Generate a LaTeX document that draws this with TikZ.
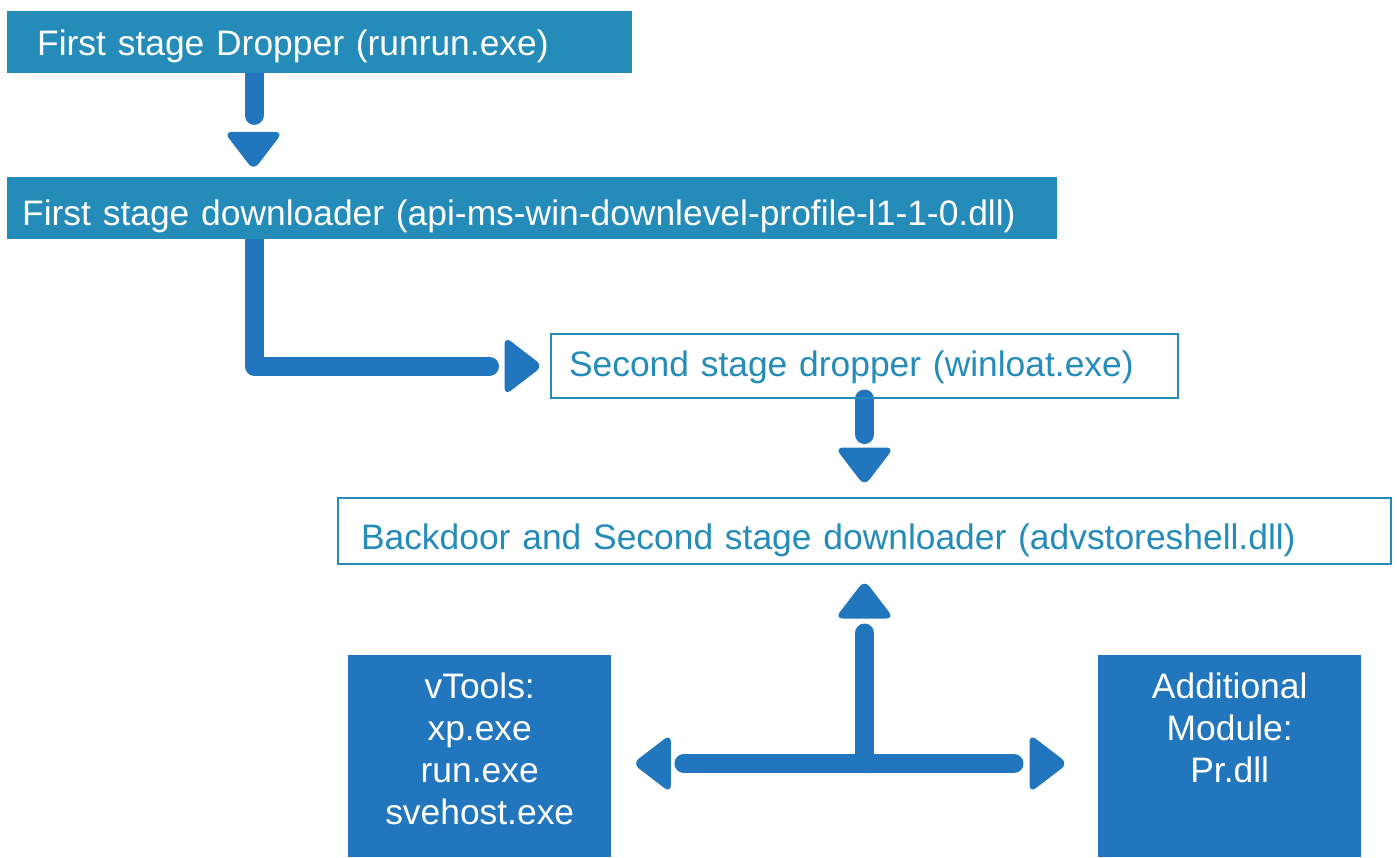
\documentclass[tikz,border=0pt]{standalone}
\usepackage{fontspec}
\setmainfont{Liberation Sans}
\usetikzlibrary{calc,backgrounds}
\definecolor{tealc}{RGB}{37,139,184}
\definecolor{bluec}{RGB}{33,118,189}
\tikzset{
  txt/.style={font=\fontsize{35.4}{42}\selectfont},
  fillbox/.style={txt, fill=tealc, text=white, anchor=north west, inner ysep=0pt, align=left},
  linebox/.style={txt, draw=tealc, line width=2pt, text=tealc, anchor=north west, inner ysep=0pt, align=left},
  bluebox/.style={txt, fill=bluec, text=white, anchor=north west, inner sep=0pt, align=center,
    minimum width=263pt, minimum height=202pt, text width=263pt, text height=43pt, text depth=159pt},
  shaft/.style={draw=bluec, line width=19pt, line cap=round, line join=round},
  hd/.style={fill=bluec, rounded corners=8pt},
  pics/hdown/.style={code={\fill[hd] (0,-2.5) -- (29.5,-2.5) -- (0,36) -- (-29.5,-2.5) -- cycle;}},
  pics/hup/.style={code={\fill[hd] (0,2.5) -- (29.5,2.5) -- (0,-36) -- (-29.5,2.5) -- cycle;}},
  pics/hright/.style={code={\fill[hd] (-2.5,0) -- (-2.5,29.5) -- (36,0) -- (-2.5,-29.5) -- cycle;}},
  pics/hleft/.style={code={\fill[hd] (2.5,0) -- (2.5,29.5) -- (-36,0) -- (2.5,-29.5) -- cycle;}},
}
\begin{document}
\begin{tikzpicture}[x=1pt,y=-1pt]
\useasboundingbox (0,0) rectangle (1397,857);
\node[fillbox, minimum width=625pt, minimum height=62pt, inner xsep=30pt, text width=565pt, text height=44pt, text depth=18pt] (a) at (7,11) {First stage Dropper (runrun.exe)};
\node[fillbox, minimum width=1050pt, minimum height=62pt, inner xsep=15pt, text width=1020pt, text height=48pt, text depth=14pt] (b) at (7,177) {First stage downloader (api-ms-win-downlevel-profile-l1-1-0.dll)};
\node[linebox, minimum width=627pt, minimum height=64pt, inner xsep=18pt, text width=591pt, text height=41pt, text depth=21pt] (c) at (550,333) {Second stage dropper (winloat.exe)};
\node[linebox, minimum width=1053pt, minimum height=66pt, inner xsep=23pt, text width=1007pt, text height=50pt, text depth=14pt] (d) at (337,497) {Backdoor and Second stage downloader (advstoreshell.dll)};
\node[bluebox] (e) at (348,655) {vTools:\\xp.exe\\run.exe\\svehost.exe};
\node[bluebox] (f) at (1098,655) {Additional\\Module:\\Pr.dll};
\coordinate (j) at (864.5,763.5);
\begin{pgfonlayer}{background}
  % a -> b
  \draw[shaft] ($(a.south west)+(247,0)$) -- ++(0,42);
  \pic at ($(a.south west)+(246.5,61)$) {hdown};
  % b -> c
  \draw[shaft] ($(b.south west)+(247,0)$) |- ($(c.west)+(-60.5,0)$);
  \pic at ($(c.west)+(-43,0)$) {hright};
  % c -> d
  \draw[shaft] (c.south) -- ++(0,35.5);
  \pic at ($(d.north)+(0,-47)$) {hdown};
  % junction -> d, e, f
  \draw[shaft] (j) -- ($(d.south)+(0,68)$);
  \pic at ($(d.south)+(0,51)$) {hup};
  \draw[shaft] ($(e.east |- j)+(72.5,0)$) -- ($(f.west |- j)+(-84,0)$);
  \pic at ($(e.east |- j)+(57,0)$) {hleft};
  \pic at ($(f.west |- j)+(-66,0)$) {hright};
\end{pgfonlayer}
\end{tikzpicture}
\end{document}
